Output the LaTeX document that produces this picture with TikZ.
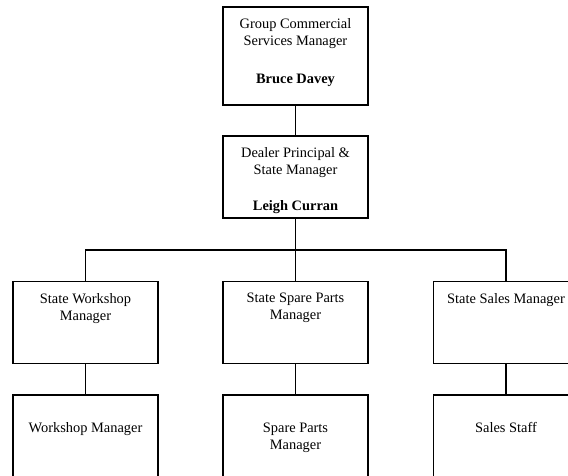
\documentclass[tikz,border=0pt]{standalone}
\usepackage{fontspec}
\setmainfont{Liberation Serif}
\usetikzlibrary{positioning}

\begin{document}
\begin{tikzpicture}[x=1pt,y=-1pt,
    post/.style={draw,line width=1.2pt,minimum width=145pt,minimum height=82pt,inner sep=0pt},
    words/.style={align=center,inner sep=0pt,font=\fontsize{14.4}{17}\selectfont}]
  \useasboundingbox (0,0) rectangle (568,475);
  % top two levels
  \node[post,minimum height=98pt] (gcsm) at (295.5,56) {};
  \node[words,below=12pt of gcsm.north] (gcsmtxt) {Group Commercial\\Services Manager\\[21pt]\textbf{Bruce Davey}};
  \node[post] (dp) at (295.5,177) {};
  \node[words,below=12pt of dp.north] (dptxt) {Dealer Principal \&\\State Manager\\[19pt]\textbf{Leigh Curran}};
  % state managers
  \node[post] (sw) at (85.5,322.5) {};
  \node[post] (ssp) at (295.5,322.5) {};
  \node[post] (ssm) at (506,322.5) {};
  \node[words,below=12pt of sw.north] (swtxt) {State Workshop\\Manager};
  \node[words,below=12pt of ssp.north] (ssptxt) {State Spare Parts\\Manager};
  \node[words,below=12pt of ssm.north] (ssmtxt) {State Sales Manager};
  % staff
  \node[post] (wm) at (85.5,436) {};
  \node[post] (spm) at (295.5,436) {};
  \node[post] (ss) at (506,436) {};
  \node[words,below=28pt of wm.north] (wmtxt) {Workshop Manager};
  \node[words,below=28pt of spm.north] (spmtxt) {Spare Parts\\Manager};
  \node[words,below=28pt of ss.north] (sstxt) {Sales Staff};
  % lines
  \coordinate (bus) at (295.5,250);
  \begin{scope}[line width=1.2pt]
    \draw (gcsm) -- (dp);
    \draw (dp) -- (ssp);
    \draw (sw.north) |- (bus) -| (ssm.north);
    \draw (sw) -- (wm);
    \draw (ssp) -- (spm);
    \draw (ssm) -- (ss);
  \end{scope}
\end{tikzpicture}
\end{document}
